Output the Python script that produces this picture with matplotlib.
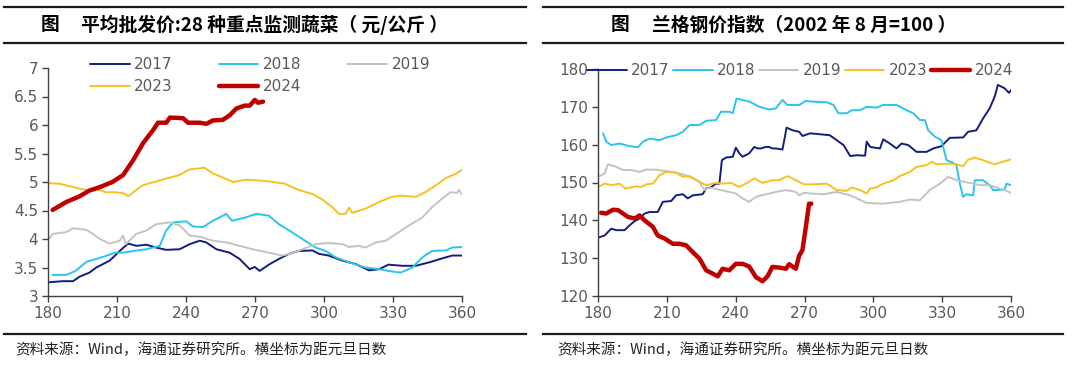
import matplotlib
matplotlib.use('Agg')
import matplotlib.pyplot as plt
from matplotlib.lines import Line2D

plt.rcParams['font.family'] = ['Noto Sans CJK SC', 'DejaVu Sans']

# ---- left: 28 vegetables average wholesale price (yuan/kg) ----
veg_2017_x = [180, 186.5, 190.9, 193.8, 198, 201, 206.8, 211.2, 214.8, 218.4, 222.8, 227, 231.4, 237.2, 241.6,
              246, 248.8, 253.2, 259, 263.3, 267.7, 269.9, 272, 276.4, 280.4, 284.8, 289, 295, 297.8, 302,
              308, 313.8, 319.6, 324, 328, 334, 339.9, 345.7, 351.4, 355.8, 360]
veg_2017_y = [3.24, 3.26, 3.26, 3.34, 3.41, 3.5, 3.62, 3.79, 3.92, 3.88, 3.9, 3.85, 3.81, 3.82, 3.91,
              3.97, 3.94, 3.82, 3.76, 3.65, 3.47, 3.51, 3.44, 3.56, 3.65, 3.74, 3.79, 3.8, 3.74, 3.71,
              3.62, 3.56, 3.45, 3.47, 3.55, 3.53, 3.53, 3.59, 3.66, 3.71, 3.71]

veg_2018_x = [182, 188, 192, 196.7, 201, 205, 209, 212.6, 217, 222.8, 228.6, 231.4, 234.3, 240.1, 243,
              247.4, 251.7, 257.5, 260, 266, 270.6, 276, 280.4, 284.8, 290.6, 296.4, 300.7, 305, 310.9,
              318, 324, 328, 333.3, 338.4, 342.8, 347, 353, 355.8, 360]
veg_2018_y = [3.37, 3.37, 3.44, 3.6, 3.65, 3.7, 3.76, 3.76, 3.79, 3.82, 3.88, 4.15, 4.29, 4.31, 4.22,
              4.21, 4.32, 4.44, 4.32, 4.38, 4.44, 4.41, 4.26, 4.15, 4.0, 3.85, 3.79, 3.68, 3.59,
              3.5, 3.47, 3.44, 3.41, 3.5, 3.68, 3.79, 3.8, 3.85, 3.86]

veg_2019_x = [180.4, 182, 188, 190.9, 196.7, 199.6, 202.5, 206.8, 211.2, 212.6, 213.8, 218.4, 222.8, 227,
              232.9, 237.2, 241.6, 246, 251.7, 257.5, 263.3, 269, 276, 281.9, 286, 290.6, 296.4, 302,
              308, 310.9, 315, 318, 322.5, 326.8, 331, 337, 342.8, 347, 351.4, 355, 358, 358.7, 360]
veg_2019_y = [4.0, 4.09, 4.12, 4.19, 4.16, 4.09, 4.0, 3.92, 3.97, 4.06, 3.91, 4.09, 4.15, 4.26,
              4.29, 4.24, 4.06, 4.04, 3.97, 3.94, 3.88, 3.82, 3.76, 3.71, 3.75, 3.82, 3.91, 3.93,
              3.91, 3.86, 3.88, 3.85, 3.94, 3.97, 4.08, 4.24, 4.38, 4.56, 4.71, 4.82, 4.81, 4.86, 4.78]

veg_2023_x = [180, 185, 188, 192, 196.7, 202.5, 205, 209.7, 213, 215, 217, 221, 227, 231.4, 237, 241.6,
              248, 251.7, 256, 260.4, 266, 270.6, 276, 283, 289, 295, 299, 303.6, 306.5, 309.4, 310.9,
              312.3, 318, 324, 329.7, 334, 339.9, 344, 348.6, 353, 357, 360]
veg_2023_y = [4.98, 4.97, 4.94, 4.9, 4.86, 4.86, 4.82, 4.82, 4.8, 4.75, 4.82, 4.94, 5.01, 5.06, 5.12, 5.22,
              5.25, 5.15, 5.08, 5.0, 5.04, 5.03, 5.01, 4.97, 4.86, 4.79, 4.7, 4.56, 4.44, 4.44, 4.55,
              4.46, 4.53, 4.65, 4.74, 4.76, 4.74, 4.82, 4.94, 5.07, 5.14, 5.21]

veg_2024_x = [182, 188, 193.8, 198, 202.5, 208, 212.6, 217, 221.3, 225.7, 227.8, 231.4, 233, 238.7,
              240.9, 246, 248.8, 251.7, 256, 259, 261.9, 265.5, 267.7, 269.9, 271.3, 273.5]
veg_2024_y = [4.51, 4.65, 4.75, 4.85, 4.91, 5.0, 5.12, 5.38, 5.68, 5.91, 6.04, 6.04, 6.13, 6.12,
              6.04, 6.04, 6.02, 6.08, 6.09, 6.17, 6.29, 6.34, 6.34, 6.44, 6.39, 6.41]

# ---- right: Lange steel price index (2002-08 = 100) ----
steel_2017_x = [180, 182.9, 184.3, 185.8, 188, 191.6, 193.8, 196, 198.1, 200.3, 202.5, 206, 208.3, 211.9,
                214, 217, 219.1, 221.3, 225.6, 227.1, 229.3, 231.4, 232.9, 234, 235.8, 238.7, 240.1,
                241.6, 243, 245.9, 248.1, 249.6, 251, 253.2, 254.6, 256, 257.5, 260.4, 262.2, 264.8,
                267.7, 269.1, 272.5, 281, 284, 287, 289.9, 292.8, 296.4, 297.1, 298.6, 302.9, 304.3,
                307.2, 310.1, 312.3, 315.2, 318.8, 323.2, 326.1, 329.7, 333.3, 339.1, 341.3, 344.9,
                347.8, 350.7, 352.9, 354.3, 357.2, 359.1, 360]
steel_2017_y = [135.4, 136.0, 136.9, 137.8, 137.4, 137.4, 138.7, 139.8, 140.5, 141.8, 142.2, 142.2, 144.9, 145.1,
                146.6, 146.9, 145.8, 146.6, 146.9, 148.4, 148.8, 149.7, 149.7, 155.9, 156.6, 156.8, 159.2,
                157.7, 156.8, 157.7, 159.4, 159.0, 159.0, 159.4, 159.4, 159.0, 159.0, 158.7, 164.5, 163.8,
                163.4, 162.3, 163.0, 162.5, 161.2, 159.9, 157.0, 157.2, 157.1, 160.8, 159.4, 159.0, 161.4,
                160.3, 159.0, 160.3, 159.9, 158.1, 158.1, 159.0, 159.6, 161.8, 161.9, 163.4, 163.8,
                166.9, 169.6, 172.7, 175.8, 174.9, 173.7, 174.4]

steel_2018_x = [182.2, 183.6, 185.8, 189.4, 193.8, 197.4, 199.6, 202.5, 206.8, 209.7, 214, 217, 219.9,
                224.2, 227.1, 231.4, 233.6, 237.2, 238.7, 240.4, 243, 245.9, 250.3, 254.6, 257.5, 260.4,
                262.6, 267.7, 270.6, 272.5, 279.7, 282.6, 284.8, 288.4, 290.6, 294.2, 297.1, 301.4,
                304.3, 310.1, 314.5, 317.4, 320.3, 322.5, 323.9, 326.8, 329.7, 331.9, 334.8, 336.2,
                337.7, 339.1, 340.6, 343.5, 344.2, 347.8, 350.7, 352.2, 357.2, 358, 360]
steel_2018_y = [163.0, 160.8, 159.9, 160.3, 159.6, 159.3, 160.8, 161.6, 161.2, 161.9, 162.5, 163.4, 165.2,
                165.2, 166.3, 166.5, 168.7, 168.7, 168.3, 172.2, 171.8, 171.4, 170.0, 169.3, 169.6, 171.8,
                170.5, 170.5, 171.6, 171.4, 171.2, 170.5, 168.3, 168.3, 169.1, 169.1, 170.0, 169.8,
                170.5, 170.5, 169.1, 168.3, 166.5, 166.5, 163.8, 162.1, 161.2, 155.9, 155.2, 154.6,
                149.7, 146.2, 146.9, 146.6, 150.6, 150.6, 149.3, 148.0, 148.1, 149.7, 149.3]

steel_2019_x = [180.7, 182.9, 184.3, 187.2, 190.9, 194.5, 198.1, 201, 205.4, 208.3, 212.6, 217, 221.3,
                224.2, 226.4, 228.6, 232.9, 237.2, 240.1, 243, 245.9, 248.8, 253.2, 257.5, 261.9, 266.2,
                267.7, 269.9, 272.5, 278.3, 284, 289.9, 297.1, 304.3, 311.6, 315.9, 320.3, 324.6, 329,
                332.6, 336.2, 342, 346.4, 350.7, 355.1, 360]
steel_2019_y = [151.7, 152.4, 154.8, 154.3, 153.3, 153.3, 152.8, 153.4, 153.4, 153.1, 152.8, 152.2, 151.1,
                150.2, 148.0, 148.7, 148.1, 147.5, 147.1, 145.8, 144.9, 146.2, 146.9, 147.5, 148.0, 147.5,
                146.6, 147.3, 147.1, 146.9, 147.5, 146.6, 144.6, 144.4, 144.9, 145.5, 145.3, 148.0, 149.7,
                151.5, 150.6, 149.9, 149.3, 149.3, 148.4, 147.3]

steel_2023_x = [180, 182.9, 185.8, 189.4, 192, 196.7, 198.8, 201, 203.9, 206.8, 209.7, 214, 217, 219.9,
                224.2, 227.1, 231.4, 234.3, 238, 241.6, 245.9, 248.1, 251.7, 256, 258.9, 262.6, 266.2,
                269.9, 272.5, 279.7, 284, 288.4, 290.6, 294.2, 297.1, 298.6, 301.4, 304.3, 308.7, 311.6,
                315.9, 318.8, 323.2, 325.4, 327.5, 333.3, 336.2, 339.1, 341.3, 344.2, 347.8, 352.9,
                356.5, 360]
steel_2023_y = [148.8, 149.7, 149.3, 149.7, 148.4, 149.0, 148.8, 149.5, 149.7, 151.9, 152.8, 152.6, 151.5, 151.7,
                150.2, 149.3, 149.9, 149.7, 149.9, 148.8, 150.2, 151.1, 149.9, 150.6, 150.6, 151.7, 150.6,
                149.5, 149.5, 149.7, 148.0, 147.8, 148.7, 148.0, 147.1, 148.4, 148.7, 149.7, 150.6, 151.7,
                152.8, 154.1, 154.6, 155.5, 154.8, 155.0, 154.8, 154.3, 156.0, 156.6, 155.9, 154.8,
                155.5, 156.1]

steel_2024_x = [181.4, 183.6, 186.5, 188.7, 190.9, 193, 196, 198.1, 200.3, 203.9, 206, 209, 212.6, 215.5,
                218.4, 221.3, 224.2, 227.1, 230, 232.2, 234.3, 237.2, 240.1, 243, 245.9, 248.8, 251.7,
                253.9, 256, 259, 261.9, 263.3, 266.2, 267.7, 269.1, 270.6, 272, 273]
steel_2024_y = [142.0, 141.8, 142.8, 142.7, 141.8, 140.9, 140.5, 141.3, 140.0, 138.3, 136.0, 135.2, 133.8, 133.8,
                133.4, 131.6, 129.9, 126.8, 125.9, 125.2, 127.2, 126.8, 128.5, 128.5, 127.8, 125.0, 123.9,
                125.2, 127.7, 127.5, 127.2, 128.4, 127.2, 130.7, 132.1, 138.3, 144.4, 144.4]

years = ['2017', '2018', '2019', '2023', '2024']
colors = ['#141c80', '#29c4f0', '#c3c3c3', '#f6c21e', '#c00000']
widths = [1.4, 1.4, 1.4, 1.4, 3.2]

veg = [(veg_2017_x, veg_2017_y), (veg_2018_x, veg_2018_y), (veg_2019_x, veg_2019_y),
       (veg_2023_x, veg_2023_y), (veg_2024_x, veg_2024_y)]
steel = [(steel_2017_x, steel_2017_y), (steel_2018_x, steel_2018_y), (steel_2019_x, steel_2019_y),
         (steel_2023_x, steel_2023_y), (steel_2024_x, steel_2024_y)]

fig = plt.figure(figsize=(10.8, 3.67), dpi=100)
W, H = 1080, 367


def fx(px):
    return px / W


def fy(py):
    return 1 - py / H


tick_col = '#595959'
num_font = 'DejaVu Sans'


def style(ax):
    for s in ['top', 'right']:
        ax.spines[s].set_visible(False)
    for s in ['left', 'bottom']:
        ax.spines[s].set_color('#404040')
        ax.spines[s].set_linewidth(1.0)
    ax.tick_params(axis='both', colors='#404040', labelcolor=tick_col, labelsize=11,
                   direction='out', length=4, width=1.0, pad=3)
    ax.set_xlim(180, 360)
    ax.set_xticks([180, 210, 240, 270, 300, 330, 360])
    for lab in ax.get_xticklabels() + ax.get_yticklabels():
        lab.set_family(num_font)


leg_kw = dict(frameon=False, prop={'family': num_font, 'size': 11}, labelcolor=tick_col,
              handletextpad=0.3, borderpad=0, borderaxespad=0)

# left axes
ax1 = fig.add_axes([fx(48), fy(296), fx(462 - 48), fy(68) - fy(296)])
lines1 = []
for (x, y), lab, c, w in zip(veg, years, colors, widths):
    lines1 += ax1.plot(x, y, color=c, lw=w, label=lab, solid_capstyle='round')
style(ax1)
ax1.set_ylim(3, 7)
ax1.set_yticks([3, 3.5, 4, 4.5, 5, 5.5, 6, 6.5, 7])
ax1.set_yticklabels(['3', '3.5', '4', '4.5', '5', '5.5', '6', '6.5', '7'], family=num_font)
# legend fills column by column: order so rows read 2017 2018 2019 / 2023 2024
order = [0, 3, 1, 4, 2]
ax1.legend([lines1[i] for i in order], [years[i] for i in order], loc='upper left',
           bbox_to_anchor=(fx(90), fy(57)), bbox_transform=fig.transFigure, ncol=3,
           handlelength=2.6, columnspacing=3.0, labelspacing=0.45, **leg_kw)

# right axes
ax2 = fig.add_axes([fx(598), fy(296), fx(1011 - 598), fy(69) - fy(296)])
for (x, y), lab, c, w in zip(steel, years, colors, widths):
    ax2.plot(x, y, color=c, lw=w, label=lab, solid_capstyle='round')
style(ax2)
ax2.set_ylim(120, 180)
ax2.set_yticks([120, 130, 140, 150, 160, 170, 180])
ax2.legend(loc='upper left', bbox_to_anchor=(fx(587), fy(63)), bbox_transform=fig.transFigure,
           ncol=5, handlelength=2.6, columnspacing=0.2, **leg_kw)

# rules, titles and sources
for x0, x1 in [(4, 526), (543, 1063)]:
    for yy in [7, 43, 334]:
        fig.add_artist(Line2D([fx(x0), fx(x1)], [fy(yy), fy(yy)], color='#1a1a1a', lw=1.6))

tsize = 13.5
fig.text(fx(41), fy(25), '图', fontsize=tsize, fontweight='bold', va='center', ha='left')
fig.text(fx(81), fy(25), '平均批发价:28 种重点监测蔬菜（ 元/公斤 ）', fontsize=tsize,
         fontweight='bold', va='center', ha='left')
fig.text(fx(611), fy(25), '图', fontsize=tsize, fontweight='bold', va='center', ha='left')
fig.text(fx(652), fy(25), '兰格钢价指数（2002 年 8 月=100 ）', fontsize=tsize,
         fontweight='bold', va='center', ha='left')

src = '资料来源：Wind，海通证券研究所。横坐标为距元旦日数'
fig.text(fx(15), fy(350), src, fontsize=10.5, va='center', ha='left', color='#222222')
fig.text(fx(557), fy(350), src, fontsize=10.5, va='center', ha='left', color='#222222')

fig.savefig('out.png', dpi=100)
